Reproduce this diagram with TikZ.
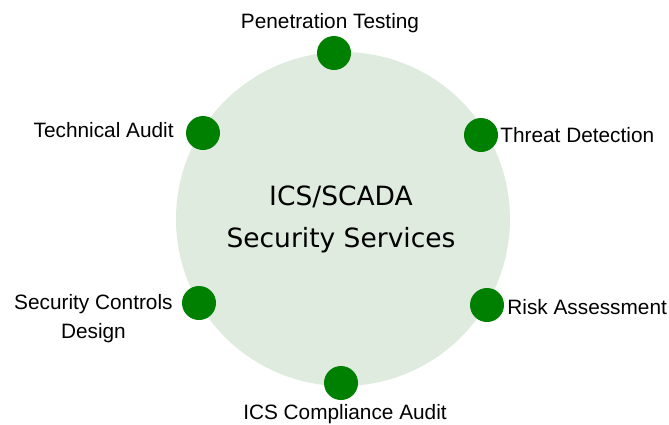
\documentclass[tikz,border=0pt]{standalone}
\usepackage{fontspec}
\setmainfont{Liberation Sans}
\newfontfamily\hubfont{DejaVu Sans}
\usetikzlibrary{positioning}

\definecolor{hubfill}{RGB}{223,235,223}
\definecolor{dotgreen}{RGB}{0,128,0}

\begin{document}
\begin{tikzpicture}[x=1pt, y=-1pt,
    hub/.style={circle, fill=hubfill, minimum size=334pt, inner sep=0pt},
    dot/.style={circle, fill=dotgreen, minimum size=34pt, inner sep=0pt},
    service/.style={inner sep=0pt, align=center, font=\fontsize{20.8}{29}\selectfont},
    hubtext/.style={inner sep=0pt, align=center, font=\hubfont\fontsize{26.5}{42}\selectfont}]

    \useasboundingbox (0,0) rectangle (669,424);

    % Central circle
    \node [hub] (hub) at (343,219) {};
    \node [hubtext, xshift=-2pt] (hub_title) at (hub.center) {ICS/SCADA\\Security Services};

    % Service dots on the rim
    \node [dot] (pen_dot) at (334,53) {};
    \node [dot] (threat_dot) at (481,135) {};
    \node [dot] (risk_dot) at (487,305) {};
    \node [dot] (audit_dot) at (341,383) {};
    \node [dot] (controls_dot) at (199,303) {};
    \node [dot] (tech_dot) at (203,133) {};

    % Service labels
    \node [service, above=3pt of pen_dot, xshift=-4pt] (pen) {Penetration Testing};
    \node [service, right=2pt of threat_dot] (threat) {Threat Detection};
    \node [service, right=3pt of risk_dot, yshift=-2pt] (risk) {Risk Assessment};
    \node [service, below=4pt of audit_dot, xshift=4pt] (audit) {ICS Compliance Audit};
    \node [service, left=9pt of controls_dot, yshift=-16pt] (controls) {Security Controls\\Design};
    \node [service, left=12pt of tech_dot, yshift=3pt] (tech) {Technical Audit};

\end{tikzpicture}
\end{document}
